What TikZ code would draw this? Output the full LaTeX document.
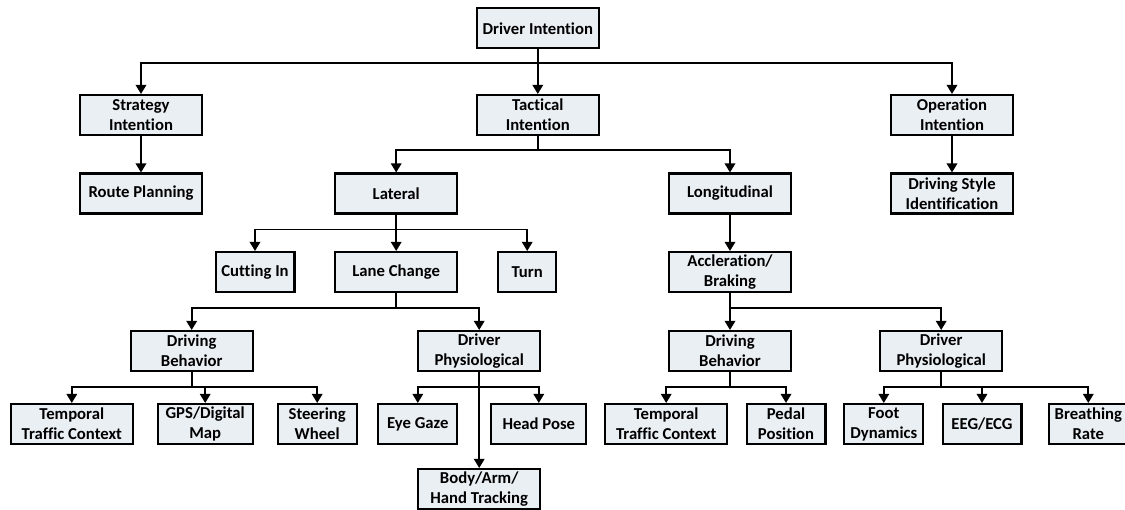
\documentclass[tikz,border=0pt]{standalone}
\usepackage{fontspec}
\setmainfont{Carlito}[Ligatures=NoCommon]
\usetikzlibrary{arrows.meta}
\definecolor{boxfill}{RGB}{234,239,244}
\tikzset{
  box/.style = {draw, fill=boxfill, line width=1.15pt, minimum height=0.8cm, inner sep=0pt,
    align=center, font=\fontsize{9.5}{11.3}\selectfont\bfseries},
  bigbox/.style = {box, minimum width=2.44cm},
  midbox/.style = {box, minimum width=1.9cm},
  smallbox/.style = {box, minimum width=1.58cm},
  tinybox/.style = {box, minimum width=1.16cm},
  arr/.style = {line width=1pt, -{Triangle[length=5.2pt, width=6pt]}}
}
\begin{document}
\begin{tikzpicture}[x=0.02cm, y=0.02cm]

            \useasboundingbox (0,0) rectangle (1125,-510);

            \node [bigbox] (drv) at (537.8,-28.3) {Driver Intention};

            \node [bigbox] (strat) at (141,-115) {Strategy\\Intention};
            \node [bigbox] (tact) at (537.8,-115) {Tactical\\Intention};
            \node [bigbox] (oper) at (952,-115) {Operation\\Intention};

            \node [bigbox] (route) at (141,-193.5) {Route Planning};
            \node [bigbox] (lat) at (396.2,-193.5) {Lateral};
            \node [bigbox] (lon) at (730,-193.5) {Longitudinal};
            \node [bigbox] (dstyle) at (952,-193.5) {Driving Style\\Identification};

            \node [smallbox] (cut) at (255,-272) {Cutting In};
            \node [bigbox] (lane) at (396.2,-272) {Lane Change};
            \node [tinybox] (turn) at (527.2,-272) {Turn};
            \node [bigbox] (acc) at (730,-272) {Accleration/\\Braking};

            \node [bigbox] (behL) at (191.7,-351) {Driving\\Behavior};
            \node [bigbox] (physL) at (479.2,-351) {Driver\\Physiological};
            \node [bigbox] (behR) at (730,-351) {Driving\\Behavior};
            \node [bigbox] (physR) at (941.2,-351) {Driver\\Physiological};

            \node [bigbox] (tempL) at (71.8,-424) {Temporal\\Traffic Context};
            \node [midbox] (gps) at (205.2,-424) {GPS/Digital\\Map};
            \node [smallbox] (steer) at (317.2,-424) {Steering\\Wheel};
            \node [smallbox] (eye) at (417.8,-424) {Eye Gaze};
            \node [midbox] (head) at (538.8,-424) {Head Pose};
            \node [bigbox] (body) at (479.2,-489) {Body/Arm/\\Hand Tracking};
            \node [bigbox] (tempR) at (666.2,-424) {Temporal\\Traffic Context};
            \node [smallbox] (pedal) at (786,-424) {Pedal\\Position};
            \node [smallbox] (foot) at (883.8,-424) {Foot\\Dynamics};
            \node [smallbox] (eeg) at (982,-424) {EEG/ECG};
            \node [smallbox] (breath) at (1088.3,-424) {Breathing\\Rate};

            \foreach \c in {strat,tact,oper} {
              \draw [arr] (drv.south) -- ++(0,-14) -| (\c.north);
            }
            \draw [arr] (strat.south) -- (route.north);
            \draw [arr] (oper.south) -- (dstyle.north);
            \foreach \c in {lat,lon} {
              \draw [arr] (tact.south) -- ++(0,-14.3) -| (\c.north);
            }
            \foreach \c in {cut,lane,turn} {
              \draw [arr] (lat.south) -- ++(0,-15) -| (\c.north);
            }
            \draw [arr] (lon.south) -- (acc.north);
            \foreach \c in {behL,physL} {
              \draw [arr] (lane.south) -- ++(0,-14.7) -| (\c.north);
            }
            \foreach \c in {behR,physR} {
              \draw [arr] (acc.south) -- ++(0,-14.7) -| (\c.north);
            }
            \foreach \c in {tempL,gps,steer} {
              \draw [arr] (behL.south) -- ++(0,-14.7) -| (\c.north);
            }
            \foreach \c in {eye,head,body} {
              \draw [arr] (physL.south) -- ++(0,-14.7) -| (\c.north);
            }
            \foreach \c in {tempR,pedal} {
              \draw [arr] (behR.south) -- ++(0,-14.7) -| (\c.north);
            }
            \foreach \c in {foot,eeg,breath} {
              \draw [arr] (physR.south) -- ++(0,-14.7) -| (\c.north);
            }
            \end{tikzpicture}
\end{document}
